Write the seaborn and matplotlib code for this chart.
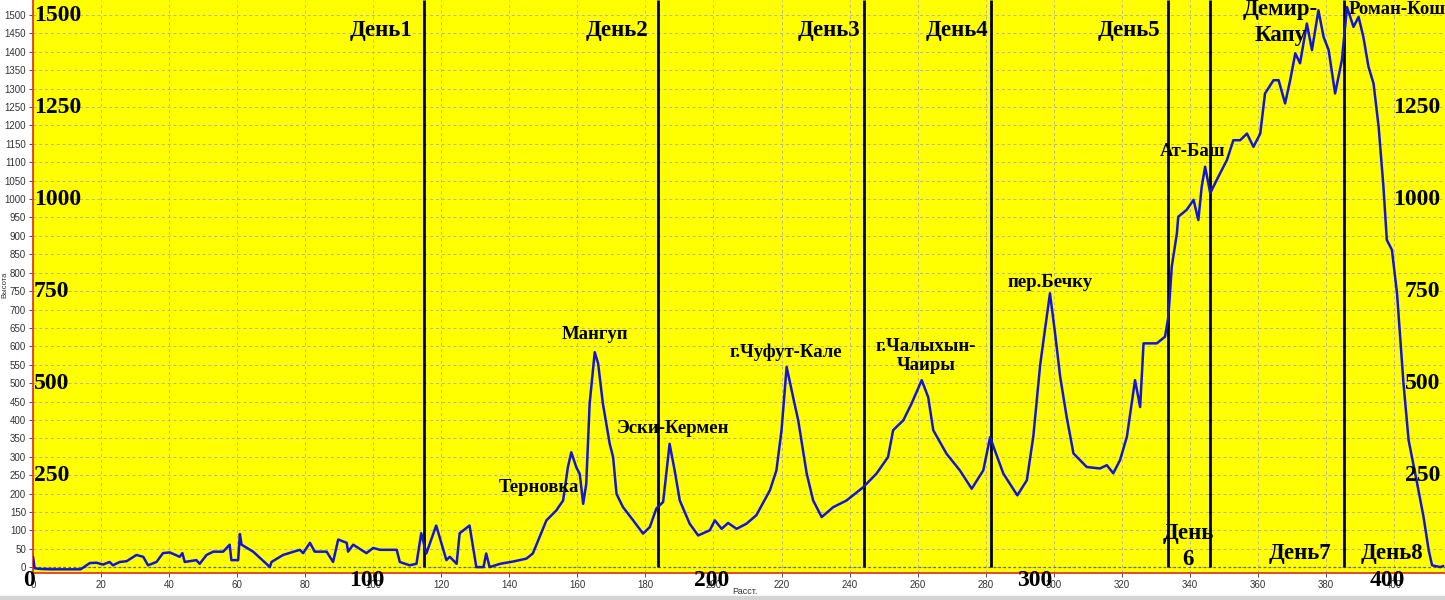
import matplotlib
matplotlib.use("Agg")
import matplotlib.pyplot as plt
import seaborn as sns
import pandas as pd
from matplotlib.patches import Rectangle

# профиль маршрута: расстояние (км) и высота (м)
dist = [0, 0.5, 2, 5, 10, 14, 16.7, 18.6, 20.6, 22.5, 23.5, 25.5, 27.5, 30.4, 32.4, 33.8,
        36.3, 38.2, 40.2, 43.1, 43.9, 44.6, 48, 49, 51, 53, 55.9, 57.8, 58.3, 60.3, 60.8,
        61.3, 64.7, 68.6, 69.6, 70.1, 73.5, 78.4, 79.4, 81.4, 82.8, 86.3, 88.2, 89.7, 92.2,
        92.6, 94.1, 98, 100, 102, 106.9, 107.8, 110.7, 112.7, 114.1, 115.6, 118.5, 121.5,
        122.5, 124.5, 125.4, 128.3, 130.3, 132.4, 133.2, 134.2, 137.3, 141, 145, 146.9,
        148.9, 150.9, 153.8, 155.8, 157.2, 158.2, 159.7, 160.7, 161.7, 162.6, 163.6, 165.1,
        166.1, 167.5, 169.5, 170.5, 171.5, 173.4, 176.4, 179.3, 181.3, 183.2, 185.2, 187.1,
        188.6, 190.1, 193, 195.5, 198.9, 200.4, 202.4, 204.3, 206.8, 209.7, 212.6, 216.6,
        218.5, 220, 221.5, 223.4, 224.9, 227.4, 229.3, 231.8, 235.2, 239.1, 244, 247.9,
        251.3, 252.8, 255.8, 258.2, 261.2, 263.1, 264.6, 268.5, 272.4, 275.9, 279.3, 281.3,
        282.7, 285.2, 289.3, 292.1, 294, 296, 297, 298.9, 300.4, 301.9, 303.8, 305.8, 309.7,
        313.6, 315.6, 317.5, 319.5, 321.5, 323.9, 325.4, 326.4, 330.3, 332.7, 333.7, 334.7,
        336.2, 336.6, 339.1, 341.1, 342.5, 343.5, 344.5, 346, 347.9, 350.9, 352.8, 354.8,
        356.8, 358.7, 360.7, 362.1, 364.6, 366.1, 368, 369.5, 371, 372.4, 374.4, 375.9,
        377.8, 379.3, 380.8, 382.7, 384.7, 386.2, 388.1, 389.6, 391, 392.5, 394, 395.5,
        396.9, 397.9, 399.4, 400.9, 402.8, 404.3, 406.8, 408.7, 410.2, 411.2, 413.6, 414.5]
elev = [28, -3, -5, -6, -6, -6, 11, 12, 7, 14, 5, 14, 16, 33, 28, 5,
        14, 38, 40, 28, 38, 14, 19, 9, 33, 42, 42, 61, 19, 19, 90,
        61, 42, 9, 0, 14, 33, 47, 38, 66, 42, 42, 14, 75, 66,
        42, 61, 38, 52, 47, 47, 14, 5, 9, 92, 37, 113, 19,
        28, 9, 92, 113, 0, 0, 37, 0, 9, 15, 23, 37,
        82, 127, 154, 181, 271, 312, 271, 253, 172, 226, 444, 584,
        553, 444, 335, 299, 199, 163, 127, 91, 109, 159, 177, 335,
        262, 181, 118, 86, 100, 127, 104, 120, 104, 118, 141, 209,
        263, 372, 544, 462, 399, 254, 181, 136, 163, 181, 217, 254,
        299, 372, 399, 444, 508, 462, 372, 308, 263, 213, 263, 353,
        317, 254, 195, 236, 355, 548, 617, 744, 635, 517, 408, 309, 272,
        268, 277, 255, 291, 354, 508, 435, 608, 608, 626, 680, 817,
        907, 952, 971, 998, 943, 1034, 1088, 1016, 1052, 1106, 1160, 1160,
        1178, 1142, 1178, 1287, 1323, 1323, 1260, 1323, 1396, 1369, 1477, 1405,
        1513, 1441, 1405, 1287, 1378, 1522, 1468, 1495, 1441, 1360, 1314, 1196,
        1034, 889, 862, 744, 499, 345, 228, 136, 46, 5, 0, 3]

# границы дней
day_bounds = [114.8, 183.8, 244.2, 281.5, 333.7, 346.0, 385.2]

day_names = ["День1", "День2", "День3", "День4", "День5", "День\n6", "День7", "День8"]
day_pos = [(102.4, 1459), (171.6, 1459), (233.9, 1459), (271.6, 1459), (322.1, 1459),
           (339.5, 57), (372.4, 38), (399.5, 38)]

places = ["Терновка", "Мангуп", "Эски-Кермен", "г.Чуфут-Кале", "г.Чалыхын-\nЧаиры",
          "пер.Бечку", "Ат-Баш"]
place_pos = [(148.6, 215), (165.1, 633), (188.0, 378), (221.3, 584), (262.5, 573),
             (298.9, 774), (340.7, 1128)]

big_x = ["0", "100", "200", "300", "400"]
big_x_pos = [-1.1, 98.0, 199.5, 294.5, 398.0]
big_y = [1500, 1250, 1000, 750, 500, 250]

df = pd.DataFrame({"Расст.": dist, "Высота": elev})

sns.set_style("ticks")
plt.rcParams["font.family"] = ["Liberation Sans", "DejaVu Sans"]

fig = plt.figure(figsize=(14.45, 6), dpi=100)
ax = fig.add_axes([33 / 1445, 27 / 600, 1 - 33 / 1445, 573 / 600])
ax.set_facecolor("#ffff00")

ax.set_xlim(0, 415)
ax.set_ylim(-16, 1541)
ax.set_xticks(range(0, 401, 20))
ax.set_yticks(range(0, 1501, 50))
ax.tick_params(labelsize=7, length=3, width=0.6, colors="#333333", pad=2)
ax.grid(True, color="#b4b49a", linestyle=(0, (3, 3)), linewidth=0.7)
ax.axhline(0, color="#6b6b30", linestyle=(0, (2, 2)), linewidth=0.9)

for s in ["top", "right"]:
    ax.spines[s].set_visible(False)
for s in ["left", "bottom"]:
    ax.spines[s].set_color("#e03a2a")
    ax.spines[s].set_linewidth(1.3)

ax.vlines(day_bounds, 0, 1541, color="black", linewidth=2.0, zorder=3)

sns.lineplot(data=df, x="Расст.", y="Высота", ax=ax, color="#1414d6",
             linewidth=1.8, estimator=None, sort=False, zorder=4)
ax.set_xlabel("")
ax.set_ylabel("")

serif = dict(family=["Liberation Serif", "DejaVu Serif"], fontweight="bold", color="black")

for name, (x, y) in zip(day_names, day_pos):
    ax.text(x, y, name, fontsize=16.5, ha="center", va="center", zorder=5,
            linespacing=1.3, **serif)

for name, (x, y) in zip(places, place_pos):
    ax.text(x, y, name, fontsize=13.5, ha="center", va="center", zorder=5,
            linespacing=1.15, **serif)
ax.text(366.6, 1480, "Демир-\nКапу", fontsize=16.5, ha="center", va="center",
        zorder=5, linespacing=1.3, **serif)
ax.text(386.6, 1514, "Роман-Кош", fontsize=13.5, ha="left", va="center", zorder=5,
        clip_on=False, **serif)

for lab, x in zip(big_x, big_x_pos):
    ax.text(x, -36, lab, fontsize=17, ha="center", va="center", clip_on=False,
            zorder=5, **serif)

for v in big_y:
    ax.text(0.2, v, str(v), fontsize=17, ha="left", va="center", zorder=5, **serif)
    if v < 1500:
        ax.text(413.6, v, str(v), fontsize=17, ha="right", va="center", zorder=5, **serif)

fig.text(745 / 1445, 1 - 591 / 600, "Расст.", fontsize=6.5, ha="center", va="center",
         color="#333333")
fig.text(5 / 1445, 1 - 285 / 600, "Высота", fontsize=5.5, ha="center", va="center",
         rotation=90, color="#333333")
fig.patches.append(Rectangle((0, 0), 1, 4 / 600, transform=fig.transFigure,
                             color="#d4d4d4", zorder=0))

fig.savefig("out.png", dpi=100, facecolor="white")
